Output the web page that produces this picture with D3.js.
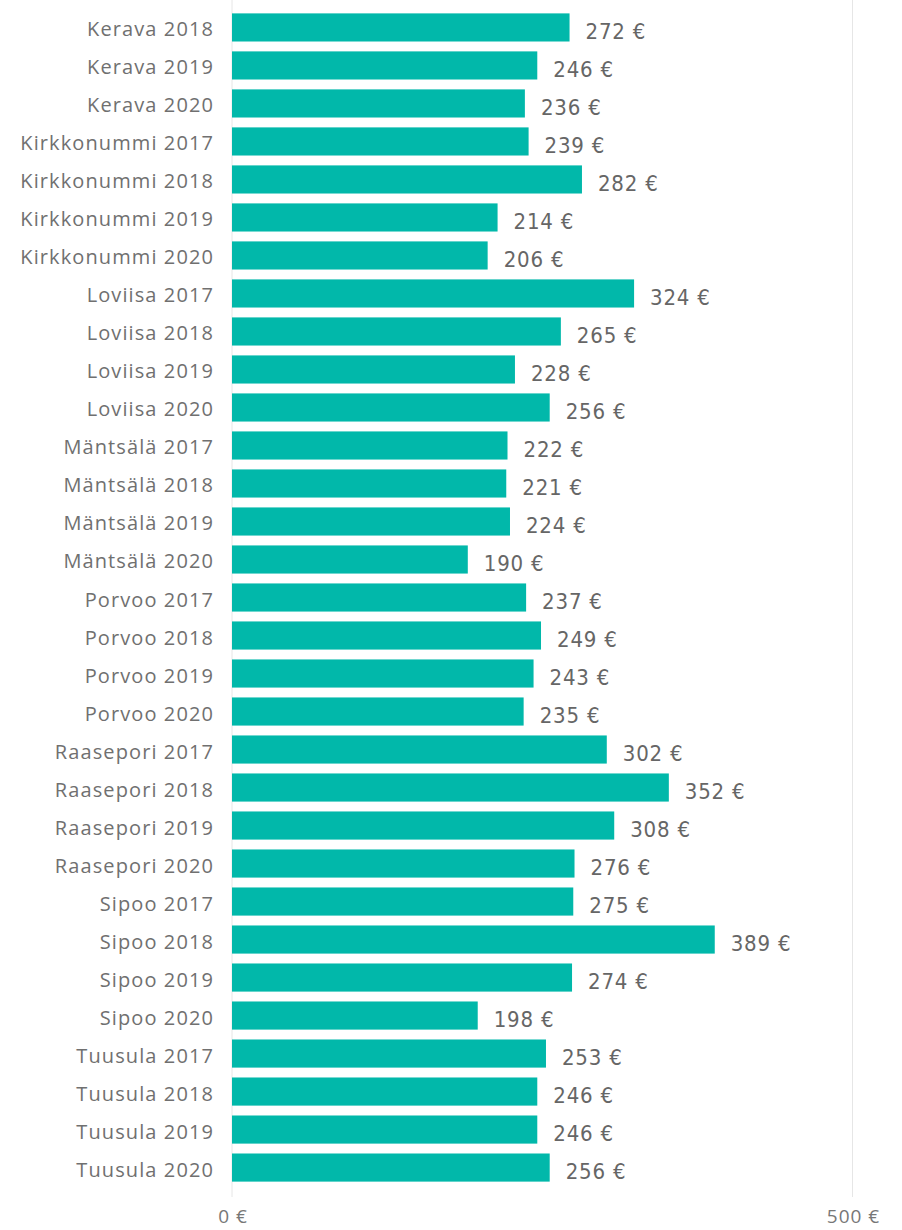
<!DOCTYPE html>
<html>
<head>
<meta charset="utf-8">
<script src="https://cdn.jsdelivr.net/npm/d3@7"></script>
<style>
  body { margin: 0; background: #fff; }
  .cat { font-family: "Open Sans", sans-serif; font-size: 20px; letter-spacing: 1.1px; fill: #707070; }
  .val { font-family: "DejaVu Sans Condensed", "DejaVu Sans", sans-serif; font-size: 22px; letter-spacing: 0.8px; fill: #666; }
  .tick-label { font-family: "Open Sans", sans-serif; font-size: 19px; letter-spacing: 1px; fill: #777; }
</style>
</head>
<body>
<div id="chart"></div>
<script>
// data
const labels = [
  "Kerava 2018", "Kerava 2019", "Kerava 2020",
  "Kirkkonummi 2017", "Kirkkonummi 2018", "Kirkkonummi 2019", "Kirkkonummi 2020",
  "Loviisa 2017", "Loviisa 2018", "Loviisa 2019", "Loviisa 2020",
  "Mäntsälä 2017", "Mäntsälä 2018", "Mäntsälä 2019", "Mäntsälä 2020",
  "Porvoo 2017", "Porvoo 2018", "Porvoo 2019", "Porvoo 2020",
  "Raasepori 2017", "Raasepori 2018", "Raasepori 2019", "Raasepori 2020",
  "Sipoo 2017", "Sipoo 2018", "Sipoo 2019", "Sipoo 2020",
  "Tuusula 2017", "Tuusula 2018", "Tuusula 2019", "Tuusula 2020"
];
const values = [
  272, 246, 236,
  239, 282, 214, 206,
  324, 265, 228, 256,
  222, 221, 224, 190,
  237, 249, 243, 235,
  302, 352, 308, 276,
  275, 389, 274, 198,
  253, 246, 246, 256
];
const xTicks = [0, 500];

const width = 902, height = 1230;

let svg = d3.select("#chart")
  .append("svg")
  .attr("width", width)
  .attr("height", height);

let x = d3.scaleLinear().domain([0, 500]).range([232, 852.5]);
let y = d3.scaleBand().domain(labels).range([3.5, 1191.5]).padding(0.26);

// gridlines
svg.append("g").selectAll("line")
  .data(xTicks)
  .join("line")
  .attr("x1", (d) => x(d)).attr("x2", (d) => x(d))
  .attr("y1", 0).attr("y2", 1197)
  .attr("stroke", "#e6e6e6")
  .attr("stroke-width", 1);

// bars
svg.append("g").selectAll("rect")
  .data(values)
  .join("rect")
  .attr("x", x(0))
  .attr("y", (d, i) => y(labels[i]))
  .attr("width", (d) => x(d) - x(0))
  .attr("height", y.bandwidth())
  .attr("fill", "#01B8AA");

// category labels
svg.append("g").selectAll("text")
  .data(labels)
  .join("text")
  .attr("class", "cat")
  .attr("x", 214)
  .attr("y", (d) => y(d) + y.bandwidth() / 2 + 2)
  .attr("dy", "0.35em")
  .attr("text-anchor", "end")
  .text((d) => d);

// value labels
svg.append("g").selectAll("text")
  .data(values)
  .join("text")
  .attr("class", "val")
  .attr("x", (d) => x(d) + 16)
  .attr("y", (d, i) => y(labels[i]) + y.bandwidth() / 2 + 4)
  .attr("dy", "0.35em")
  .text((d) => d + " €");

// x axis tick labels
svg.append("g").selectAll("text")
  .data(xTicks)
  .join("text")
  .attr("class", "tick-label")
  .attr("x", (d) => x(d) + 1)
  .attr("y", 1223)
  .attr("text-anchor", "middle")
  .text((d) => d + " €");
</script>
</body>
</html>
